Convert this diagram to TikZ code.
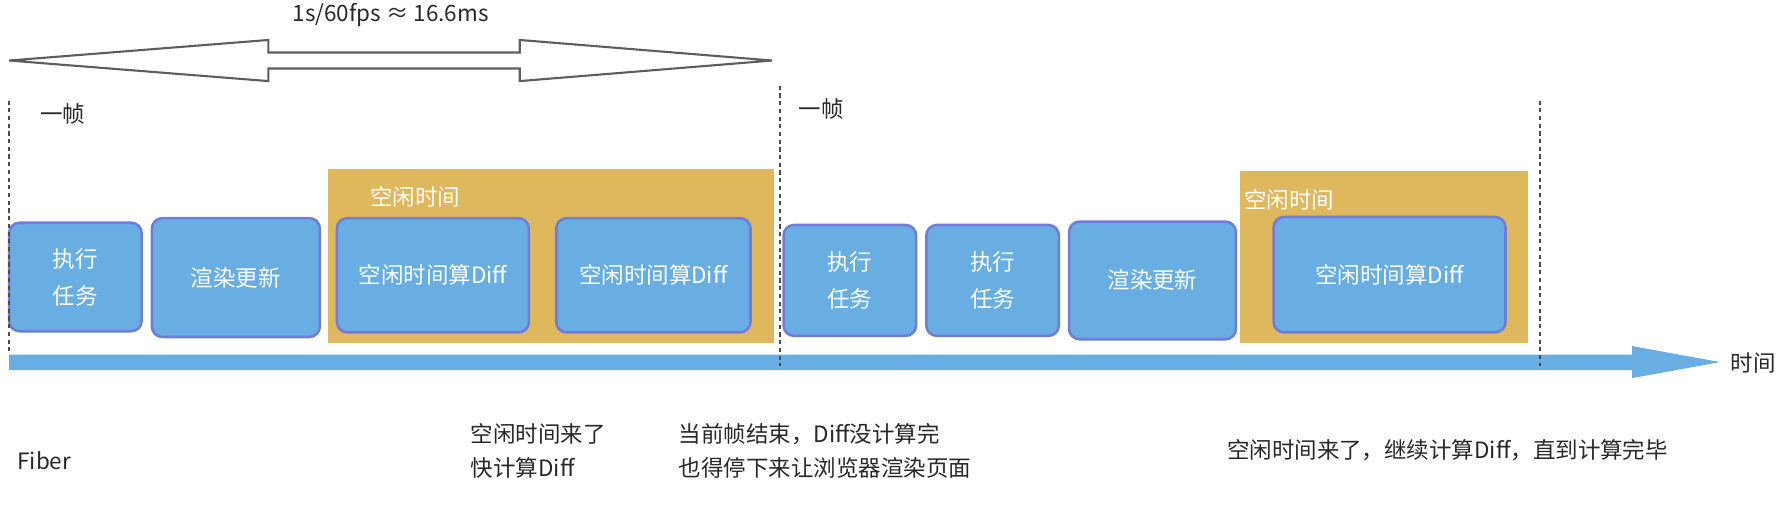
\documentclass[tikz,border=0pt]{standalone}
\usepackage{fontspec}
\setmainfont{Noto Sans CJK SC}
\usetikzlibrary{positioning}

\definecolor{taskblue}{RGB}{104,174,226}
\definecolor{taskedge}{RGB}{112,124,218}
\definecolor{idlegold}{RGB}{223,184,94}
\definecolor{framegray}{RGB}{75,75,75}
\definecolor{notegray}{RGB}{40,40,40}

\begin{document}
\begin{tikzpicture}[x=0.025cm, y=-0.025cm]
	\tikzstyle{block}=[fill=taskblue, draw=taskedge, line width=1.6pt, rounded corners=6.5pt,
	text=white, align=center, inner sep=0pt, font=\fontsize{14}{23}\selectfont]
	\tikzstyle{idle}=[fill=idlegold, inner sep=0pt]
	\tikzstyle{note}=[anchor=west, align=left, inner sep=0pt, text=notegray, font=\fontsize{14}{21}\selectfont]
	\tikzstyle{frameline}=[draw=framegray, line width=1.3pt, dash pattern=on 2.6pt off 2.2pt]
	\useasboundingbox (0,0) rectangle (1568,446);

	% span of one frame
	\node[note, anchor=center] (fps) at (342,13) {1s/60fps ≈ 16.6ms};
	\draw[draw=framegray!90, line width=1.3pt, fill=white, line join=miter]
	(8,53) -- (235,35) -- (235,46) -- (455,46) -- (455,35) -- (676,53)
	-- (455,71) -- (455,60) -- (235,60) -- (235,71) -- cycle;

	% time line
	\fill[taskblue] (8,310.5) -- (1429,310.5) -- (1429,303) -- (1506,317)
	-- (1429,331) -- (1429,324) -- (8,324) -- cycle;
	\node[note] (time) at (1515,318) {时间};

	% frame 1
	\node[idle, minimum width=9.775cm, minimum height=3.8cm] (idleA) at (482.5,224) {};
	\node[note, text=white] (idleAtxt) at (324,172) {空闲时间};
	\node[block, minimum width=2.9cm, minimum height=2.375cm] (taskA) at (66,242.5) {执行\\任务};
	\node[block, minimum width=3.675cm, minimum height=2.6cm] (renderA) at (206.5,243) {渲染更新};
	\node[block, minimum width=4.2cm, minimum height=2.5cm] (diffA) at (379,241) {空闲时间算Diff};
	\node[block, minimum width=4.25cm, minimum height=2.5cm] (diffB) at (572,241) {空闲时间算Diff};

	% frame 2
	\node[idle, minimum width=6.3cm, minimum height=3.75cm] (idleB) at (1212,225) {};
	\node[note, text=white] (idleBtxt) at (1089,175) {空闲时间};
	\node[block, minimum width=2.9cm, minimum height=2.425cm] (taskB) at (744,245.5) {执行\\任务};
	\node[block, minimum width=2.9cm, minimum height=2.425cm] (taskC) at (869,245.5) {执行\\任务};
	\node[block, minimum width=3.65cm, minimum height=2.575cm] (renderB) at (1009,245.5) {渲染更新};
	\node[block, minimum width=5.075cm, minimum height=2.525cm] (diffC) at (1216.5,240.5) {空闲时间算Diff};

	% frame borders
	\draw[frameline] (8,88) -- (8,309);
	\draw[frameline] (683,75) -- (683,320);
	\draw[frameline] (1348,88) -- (1348,320);
	\node[note] (frameA) at (35,100) {一帧};
	\node[note] (frameB) at (699,95) {一帧};

	% notes
	\node[note] (fiber) at (15,403) {Fiber};
	\node[note] (noteA) at (412,395) {空闲时间来了\\快计算Diff};
	\node[note] (noteB) at (594,395) {当前帧结束，Diff没计算完\\也得停下来让浏览器渲染页面};
	\node[note] (noteC) at (1074,394) {空闲时间来了，继续计算Diff，直到计算完毕};
\end{tikzpicture}
\end{document}
